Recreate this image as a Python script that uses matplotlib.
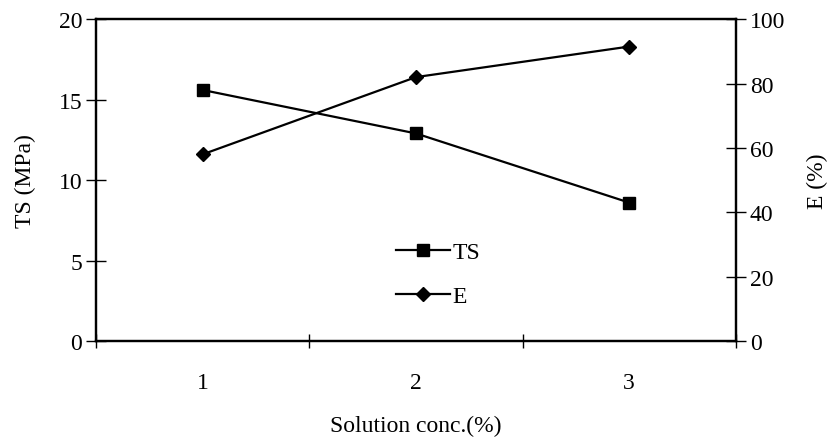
import matplotlib.pyplot as plt

plt.rcParams['font.family'] = ['Liberation Serif', 'DejaVu Serif']

conc = [1, 2, 3]
ts_values = [15.6, 12.9, 8.6]
e_values = [58, 82, 91.5]

fig = plt.figure(figsize=(8.31, 4.39), dpi=100)
ax = fig.add_axes([0.1155, 0.221, 0.77, 0.733])
ax2 = ax.twinx()

l1, = ax.plot(conc, ts_values, color='black', lw=1.6, marker='s', markersize=8.5, label='TS')
l2, = ax2.plot(conc, e_values, color='black', lw=1.6, marker='D', markersize=7.5, label='E')

ax.set_xlim(0.5, 3.5)
ax.set_ylim(0, 20)
ax2.set_ylim(0, 100)
ax.set_yticks([0, 5, 10, 15, 20])
ax2.set_yticks([0, 20, 40, 60, 80, 100])
ax.set_xticks(conc)
ax.set_xticks([0.5, 1.5, 2.5, 3.5], minor=True)
ax.tick_params(axis='x', which='major', length=0, labelsize=17, pad=22)
ax.tick_params(axis='x', which='minor', direction='inout', length=10, width=1)
ax.tick_params(axis='y', direction='inout', length=14, width=1, labelsize=17, pad=3)
ax2.tick_params(axis='y', direction='inout', length=14, width=1, labelsize=17, pad=3)

for a in (ax, ax2):
    for s in a.spines.values():
        s.set_linewidth(1.6)

ax.set_xlabel('Solution conc.(%)', fontsize=17, labelpad=16)
ax.set_ylabel('TS (MPa)', fontsize=17, labelpad=16)
ax2.set_ylabel('E (%)', fontsize=17, labelpad=16)

ax.legend([l1, l2], ['TS', 'E'], loc='upper left', bbox_to_anchor=(0.435, 0.375),
          frameon=False, fontsize=17, handlelength=2.3, handletextpad=0.1,
          labelspacing=0.95)

fig.savefig('out.png', dpi=100)
